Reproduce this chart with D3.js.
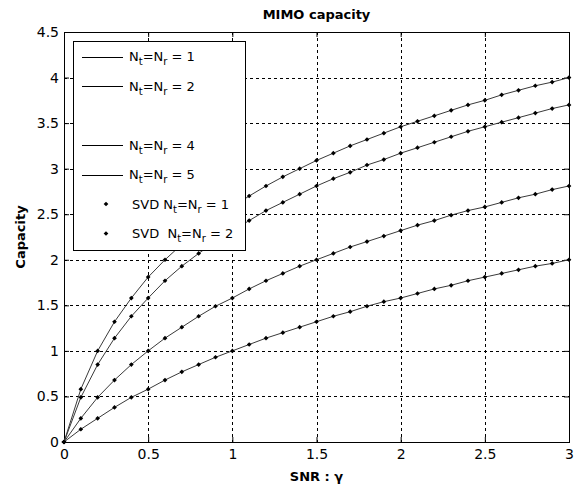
<!DOCTYPE html>
<html lang="en">
<head>
<meta charset="UTF-8">
<title>MIMO capacity</title>
<script src="https://cdn.jsdelivr.net/npm/d3@7"></script>
<style>
    body { margin: 0; background: #fff; }
    text { font-family: "DejaVu Sans", sans-serif; fill: #000; }
</style>
</head>
<body>
<script>
    // values
    var snr  = [0,0.1,0.2,0.3,0.4,0.5,0.6,0.7,0.8,0.9,1.0,1.1,1.2,1.3,1.4,1.5,1.6,1.7,1.8,1.9,2.0,2.1,2.2,2.3,2.4,2.5,2.6,2.7,2.8,2.9,3.0];
    var cap1 = [0,0.14,0.26,0.38,0.49,0.58,0.68,0.77,0.85,0.93,1.00,1.07,1.14,1.20,1.26,1.32,1.38,1.43,1.49,1.54,1.58,1.63,1.68,1.72,1.77,1.81,1.85,1.89,1.93,1.96,2.00];
    var cap2 = [0,0.26,0.49,0.68,0.85,1.00,1.14,1.26,1.38,1.49,1.58,1.68,1.77,1.85,1.93,2.00,2.07,2.14,2.20,2.26,2.32,2.38,2.43,2.49,2.54,2.58,2.63,2.68,2.72,2.77,2.81];
    var cap4 = [0,0.49,0.85,1.14,1.38,1.58,1.77,1.93,2.07,2.20,2.32,2.43,2.54,2.63,2.72,2.81,2.89,2.96,3.04,3.10,3.17,3.23,3.29,3.35,3.41,3.46,3.51,3.56,3.61,3.66,3.70];
    var cap5 = [0,0.58,1.00,1.32,1.58,1.81,2.00,2.17,2.32,2.46,2.58,2.70,2.81,2.91,3.00,3.09,3.17,3.25,3.32,3.39,3.46,3.52,3.58,3.64,3.70,3.75,3.81,3.86,3.91,3.95,4.00];

    var xTicks = [0,0.5,1,1.5,2,2.5,3];
    var xTickLabels = ["0","0.5","1","1.5","2","2.5","3"];
    var yTicks = [0,0.5,1,1.5,2,2.5,3,3.5,4,4.5];
    var yTickLabels = ["0","0.5","1","1.5","2","2.5","3","3.5","4","4.5"];

    var legendKind   = ["line","line","blank","line","line","dot","dot"];
    var legendPrefix = ["","","","","","SVD ","SVD  "];
    var legendNum    = ["1","2","","4","5","1","2"];

    var width = 574, height = 487;
    var pL = 64, pR = 569, pT = 32, pB = 442;

    var svg = d3.select('body')
            .append('svg')
            .attr('width', width)
            .attr('height', height);

    var x = d3.scaleLinear().domain([0,3]).range([pL,pR]);
    var y = d3.scaleLinear().domain([0,4.5]).range([pB,pT]);

    // dashed grid
    var grid = svg.append('g')
            .attr('stroke','#000')
            .attr('stroke-width',1)
            .attr('stroke-dasharray','3,3');
    grid.selectAll('line.gx')
            .data(xTicks.slice(1,-1))
            .enter().append('line')
            .attr('x1', function(d){ return Math.round(x(d)) + 0.5; })
            .attr('x2', function(d){ return Math.round(x(d)) + 0.5; })
            .attr('y1', pT).attr('y2', pB);
    grid.selectAll('line.gy')
            .data(yTicks.slice(1,-1))
            .enter().append('line')
            .attr('y1', function(d){ return Math.round(y(d)) + 0.5; })
            .attr('y2', function(d){ return Math.round(y(d)) + 0.5; })
            .attr('x1', pL).attr('x2', pR);

    // axes, ticks pointing inwards
    svg.append('g')
            .attr('transform','translate(0,' + pB + ')')
            .call(d3.axisBottom(x).tickValues(xTicks).tickSizeInner(-5).tickSizeOuter(0).tickPadding(7)
                    .tickFormat(function(d,i){ return xTickLabels[i]; }));
    svg.append('g')
            .attr('transform','translate(0,' + pT + ')')
            .call(d3.axisTop(x).tickValues(xTicks).tickSizeInner(-5).tickSizeOuter(0).tickFormat(''));
    svg.append('g')
            .attr('transform','translate(' + pL + ',0)')
            .call(d3.axisLeft(y).tickValues(yTicks).tickSizeInner(-5).tickSizeOuter(0).tickPadding(5)
                    .tickFormat(function(d,i){ return yTickLabels[i]; }));
    svg.append('g')
            .attr('transform','translate(' + pR + ',0)')
            .call(d3.axisRight(y).tickValues(yTicks).tickSizeInner(-5).tickSizeOuter(0).tickFormat(''));

    svg.selectAll('.domain').remove();
    svg.selectAll('.tick line').attr('stroke','#000');
    svg.selectAll('.tick text')
            .style('font-family','"DejaVu Sans", sans-serif')
            .style('font-size','14px')
            .attr('fill','#111');

    // box
    svg.append('rect')
            .attr('x', pL + 0.5).attr('y', pT + 0.5)
            .attr('width', pR - pL).attr('height', pB - pT)
            .attr('fill','none')
            .attr('stroke','#000');

    // curves
    var series = [cap1, cap2, cap4, cap5];
    var line = d3.line()
            .x(function(d,i){ return x(snr[i]); })
            .y(function(d){ return y(d); });
    var marker = d3.symbol().type(d3.symbolSquare).size(11);

    series.forEach(function(s){
        svg.append('path')
                .attr('d', line(s))
                .attr('fill','none')
                .attr('stroke','#3a3a3a')
                .attr('stroke-width',1);
        svg.append('g').selectAll('path')
                .data(s)
                .enter().append('path')
                .attr('d', marker)
                .attr('transform', function(d,i){
                    return 'translate(' + x(snr[i]) + ',' + y(d) + ') rotate(45)';
                })
                .attr('fill','#000');
    });

    // legend
    var lg = svg.append('g');
    lg.append('rect')
            .attr('x', 73.5).attr('y', 41.5)
            .attr('width', 172).attr('height', 209)
            .attr('fill','#fff')
            .attr('stroke','#000');

    legendKind.forEach(function(k,i){
        if (k === 'blank') return;
        var ry = 56.5 + i * 29.5;
        var tx = 129;
        if (k === 'line') {
            lg.append('line')
                    .attr('x1', 82).attr('x2', 123)
                    .attr('y1', Math.round(ry) + 0.5).attr('y2', Math.round(ry) + 0.5)
                    .attr('stroke','#000');
        } else {
            lg.append('path')
                    .attr('d', marker)
                    .attr('transform','translate(106,' + ry + ') rotate(45)')
                    .attr('fill','#000');
            tx = 132;
        }
        var t = lg.append('text')
                .attr('x', tx).attr('y', ry)
                .attr('dy','0.36em')
                .style('font-size','13px')
                .style('white-space','pre')
                .attr('fill','#111');
        t.append('tspan').text(legendPrefix[i] + 'N');
        t.append('tspan').attr('dy', 4).style('font-size','10px').text('t');
        t.append('tspan').attr('dy', -4).text('=N');
        t.append('tspan').attr('dy', 4).style('font-size','10px').text('r');
        t.append('tspan').attr('dy', -4).text(' = ' + legendNum[i]);
    });

    // titles
    svg.append('text')
            .attr('x', (pL + pR) / 2).attr('y', 19)
            .attr('text-anchor','middle')
            .style('font-size','13px').style('font-weight','bold')
            .text('MIMO capacity');
    svg.append('text')
            .attr('x', (pL + pR) / 2).attr('y', 481)
            .attr('text-anchor','middle')
            .style('font-size','13px').style('font-weight','bold')
            .text('SNR : γ');
    svg.append('text')
            .attr('transform','translate(25,' + (pT + pB) / 2 + ') rotate(-90)')
            .attr('text-anchor','middle')
            .style('font-size','13px').style('font-weight','bold')
            .text('Capacity');
</script>
</body>
</html>
